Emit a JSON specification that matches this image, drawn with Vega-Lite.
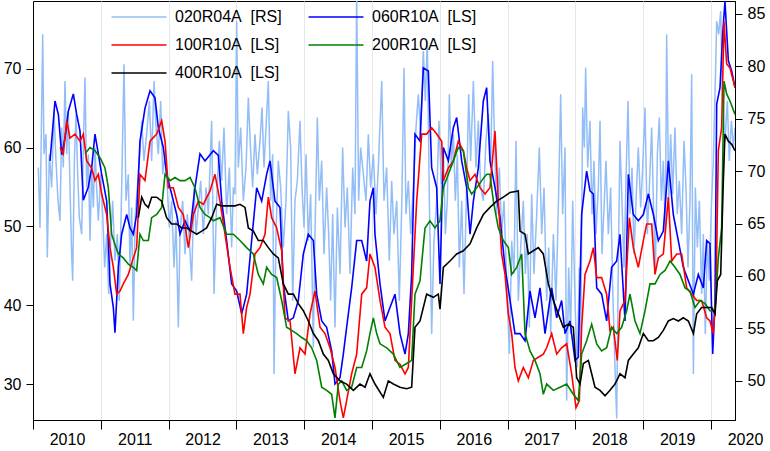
{
"$schema":"https://vega.github.io/schema/vega-lite/v6.json",
"width":702,"height":419,"autosize":"none",
"padding":{"left":33,"top":1,"right":35,"bottom":31},
"config":{"font":"Liberation Sans","view":{"stroke":"#000","strokeWidth":1},
"axis":{"labelFont":"Liberation Sans","labelFontSize":16,"labelColor":"#000","tickColor":"#000","domainColor":"#000","tickSize":7,"labelPadding":5}},
"datasets":{
"lb":[{"t":2010.079,"v":70.35},{"t":2010.103,"v":64.6},{"t":2010.143,"v":83.06},{"t":2010.162,"v":71.62},{"t":2010.192,"v":73.53},{"t":2010.211,"v":61.77},{"t":2010.241,"v":71.62},{"t":2010.275,"v":68.44},{"t":2010.31,"v":75.75},{"t":2010.339,"v":70.98},{"t":2010.369,"v":67.17},{"t":2010.398,"v":65.26},{"t":2010.423,"v":74.16},{"t":2010.447,"v":70.35},{"t":2010.472,"v":78.61},{"t":2010.497,"v":71.62},{"t":2010.521,"v":75.75},{"t":2010.546,"v":68.44},{"t":2010.57,"v":62.08},{"t":2010.585,"v":59.54},{"t":2010.61,"v":70.98},{"t":2010.634,"v":75.43},{"t":2010.659,"v":69.71},{"t":2010.683,"v":65.58},{"t":2010.718,"v":63.99},{"t":2010.742,"v":72.25},{"t":2010.767,"v":78.93},{"t":2010.792,"v":68.44},{"t":2010.816,"v":71.62},{"t":2010.841,"v":63.35},{"t":2010.865,"v":70.35},{"t":2010.89,"v":66.53},{"t":2010.914,"v":72.25},{"t":2010.939,"v":68.44},{"t":2010.964,"v":65.26},{"t":2010.998,"v":69.71},{"t":2011.028,"v":65.9},{"t":2011.057,"v":60.81},{"t":2011.087,"v":63.99},{"t":2011.116,"v":58.27},{"t":2011.146,"v":63.35},{"t":2011.175,"v":67.17},{"t":2011.209,"v":61.45},{"t":2011.244,"v":63.99},{"t":2011.273,"v":57.63},{"t":2011.308,"v":68.44},{"t":2011.342,"v":80.2},{"t":2011.372,"v":67.17},{"t":2011.406,"v":69.71},{"t":2011.431,"v":60.81},{"t":2011.455,"v":66.53},{"t":2011.48,"v":55.73},{"t":2011.509,"v":65.9},{"t":2011.539,"v":68.44},{"t":2011.568,"v":70.98},{"t":2011.603,"v":74.8},{"t":2011.637,"v":70.98},{"t":2011.676,"v":73.53},{"t":2011.716,"v":76.7},{"t":2011.75,"v":70.98},{"t":2011.785,"v":78.61},{"t":2011.814,"v":74.16},{"t":2011.849,"v":71.62},{"t":2011.883,"v":76.7},{"t":2011.913,"v":69.71},{"t":2011.947,"v":71.62},{"t":2011.981,"v":68.44},{"t":2012.011,"v":64.63},{"t":2012.045,"v":67.17},{"t":2012.08,"v":60.81},{"t":2012.109,"v":65.26},{"t":2012.144,"v":55.09},{"t":2012.168,"v":63.99},{"t":2012.207,"v":67.17},{"t":2012.242,"v":62.08},{"t":2012.276,"v":65.9},{"t":2012.306,"v":63.35},{"t":2012.34,"v":59.54},{"t":2012.375,"v":68.44},{"t":2012.404,"v":63.99},{"t":2012.439,"v":66.53},{"t":2012.473,"v":69.08},{"t":2012.512,"v":63.99},{"t":2012.552,"v":68.44},{"t":2012.586,"v":65.9},{"t":2012.635,"v":74.8},{"t":2012.67,"v":58.27},{"t":2012.709,"v":67.17},{"t":2012.748,"v":72.89},{"t":2012.783,"v":69.08},{"t":2012.817,"v":74.16},{"t":2012.856,"v":65.9},{"t":2012.896,"v":70.35},{"t":2012.93,"v":62.72},{"t":2012.955,"v":68.44},{"t":2012.979,"v":67.8},{"t":2013.004,"v":84.33},{"t":2013.028,"v":70.35},{"t":2013.063,"v":74.16},{"t":2013.102,"v":67.17},{"t":2013.142,"v":70.35},{"t":2013.176,"v":77.02},{"t":2013.21,"v":71.94},{"t":2013.24,"v":68.44},{"t":2013.274,"v":73.53},{"t":2013.309,"v":69.71},{"t":2013.348,"v":72.89},{"t":2013.378,"v":76.07},{"t":2013.407,"v":70.35},{"t":2013.437,"v":74.16},{"t":2013.471,"v":78.61},{"t":2013.505,"v":67.17},{"t":2013.535,"v":71.62},{"t":2013.555,"v":50.64},{"t":2013.584,"v":63.99},{"t":2013.618,"v":70.98},{"t":2013.653,"v":68.44},{"t":2013.692,"v":62.72},{"t":2013.732,"v":67.17},{"t":2013.766,"v":75.75},{"t":2013.8,"v":72.25},{"t":2013.83,"v":57.63},{"t":2013.864,"v":67.17},{"t":2013.899,"v":69.08},{"t":2013.938,"v":74.8},{"t":2013.968,"v":68.44},{"t":2013.997,"v":64.63},{"t":2014.027,"v":71.62},{"t":2014.061,"v":63.35},{"t":2014.095,"v":67.8},{"t":2014.135,"v":53.18},{"t":2014.159,"v":63.99},{"t":2014.194,"v":75.12},{"t":2014.223,"v":67.17},{"t":2014.258,"v":70.98},{"t":2014.292,"v":62.08},{"t":2014.331,"v":68.44},{"t":2014.361,"v":63.99},{"t":2014.39,"v":57.63},{"t":2014.42,"v":65.9},{"t":2014.454,"v":55.09},{"t":2014.489,"v":66.53},{"t":2014.528,"v":60.18},{"t":2014.567,"v":72.25},{"t":2014.602,"v":64.63},{"t":2014.636,"v":68.44},{"t":2014.676,"v":60.18},{"t":2014.715,"v":70.35},{"t":2014.749,"v":65.9},{"t":2014.774,"v":87.0},{"t":2014.803,"v":67.17},{"t":2014.833,"v":72.25},{"t":2014.872,"v":69.71},{"t":2014.912,"v":67.17},{"t":2014.946,"v":73.53},{"t":2014.98,"v":68.44},{"t":2015.02,"v":71.62},{"t":2015.059,"v":65.9},{"t":2015.093,"v":70.35},{"t":2015.143,"v":78.61},{"t":2015.177,"v":67.17},{"t":2015.216,"v":70.35},{"t":2015.256,"v":61.45},{"t":2015.29,"v":69.08},{"t":2015.324,"v":63.99},{"t":2015.364,"v":67.17},{"t":2015.403,"v":57.63},{"t":2015.438,"v":66.53},{"t":2015.472,"v":79.88},{"t":2015.501,"v":65.9},{"t":2015.536,"v":69.08},{"t":2015.57,"v":63.99},{"t":2015.61,"v":68.44},{"t":2015.649,"v":74.16},{"t":2015.683,"v":77.34},{"t":2015.718,"v":73.53},{"t":2015.757,"v":81.47},{"t":2015.787,"v":76.7},{"t":2015.816,"v":82.43},{"t":2015.846,"v":67.17},{"t":2015.88,"v":54.45},{"t":2015.914,"v":63.35},{"t":2015.954,"v":67.17},{"t":2015.988,"v":74.8},{"t":2016.023,"v":68.76},{"t":2016.052,"v":72.25},{"t":2016.082,"v":63.99},{"t":2016.111,"v":67.17},{"t":2016.141,"v":77.34},{"t":2016.17,"v":70.35},{"t":2016.2,"v":73.53},{"t":2016.229,"v":67.17},{"t":2016.259,"v":71.62},{"t":2016.288,"v":60.81},{"t":2016.323,"v":67.17},{"t":2016.357,"v":58.27},{"t":2016.396,"v":68.44},{"t":2016.426,"v":77.34},{"t":2016.455,"v":70.98},{"t":2016.495,"v":78.61},{"t":2016.534,"v":70.35},{"t":2016.568,"v":74.8},{"t":2016.603,"v":68.44},{"t":2016.642,"v":67.17},{"t":2016.681,"v":72.89},{"t":2016.716,"v":75.43},{"t":2016.75,"v":70.35},{"t":2016.78,"v":80.52},{"t":2016.809,"v":72.25},{"t":2016.839,"v":65.9},{"t":2016.878,"v":70.35},{"t":2016.912,"v":63.99},{"t":2016.947,"v":67.17},{"t":2016.986,"v":59.54},{"t":2017.026,"v":52.55},{"t":2017.06,"v":63.35},{"t":2017.094,"v":60.18},{"t":2017.124,"v":72.89},{"t":2017.158,"v":57.63},{"t":2017.193,"v":62.72},{"t":2017.232,"v":67.17},{"t":2017.262,"v":60.18},{"t":2017.291,"v":63.99},{"t":2017.321,"v":55.09},{"t":2017.355,"v":67.8},{"t":2017.389,"v":60.18},{"t":2017.429,"v":65.9},{"t":2017.468,"v":72.25},{"t":2017.503,"v":63.99},{"t":2017.537,"v":68.44},{"t":2017.576,"v":57.63},{"t":2017.606,"v":62.72},{"t":2017.635,"v":54.45},{"t":2017.675,"v":63.99},{"t":2017.714,"v":57.63},{"t":2017.748,"v":66.53},{"t":2017.783,"v":77.34},{"t":2017.812,"v":65.9},{"t":2017.847,"v":72.25},{"t":2017.871,"v":48.1},{"t":2017.901,"v":60.81},{"t":2017.93,"v":54.45},{"t":2017.96,"v":67.17},{"t":2017.994,"v":57.63},{"t":2018.028,"v":51.28},{"t":2018.058,"v":60.81},{"t":2018.078,"v":52.86},{"t":2018.107,"v":76.07},{"t":2018.132,"v":72.25},{"t":2018.151,"v":79.88},{"t":2018.181,"v":70.35},{"t":2018.215,"v":74.8},{"t":2018.245,"v":65.9},{"t":2018.274,"v":70.98},{"t":2018.304,"v":63.99},{"t":2018.338,"v":68.44},{"t":2018.363,"v":74.8},{"t":2018.392,"v":62.08},{"t":2018.422,"v":66.53},{"t":2018.451,"v":70.98},{"t":2018.486,"v":63.99},{"t":2018.52,"v":68.44},{"t":2018.55,"v":58.9},{"t":2018.584,"v":51.28},{"t":2018.609,"v":46.4},{"t":2018.638,"v":63.99},{"t":2018.658,"v":72.89},{"t":2018.687,"v":67.17},{"t":2018.717,"v":60.81},{"t":2018.746,"v":69.08},{"t":2018.776,"v":76.7},{"t":2018.805,"v":65.9},{"t":2018.835,"v":70.35},{"t":2018.864,"v":62.08},{"t":2018.894,"v":67.17},{"t":2018.928,"v":72.25},{"t":2018.963,"v":66.53},{"t":2018.992,"v":70.35},{"t":2019.027,"v":76.07},{"t":2019.061,"v":63.99},{"t":2019.091,"v":68.44},{"t":2019.125,"v":74.16},{"t":2019.15,"v":67.17},{"t":2019.179,"v":60.18},{"t":2019.209,"v":71.62},{"t":2019.238,"v":75.12},{"t":2019.268,"v":67.17},{"t":2019.297,"v":70.98},{"t":2019.327,"v":63.99},{"t":2019.346,"v":83.06},{"t":2019.376,"v":67.17},{"t":2019.405,"v":73.53},{"t":2019.435,"v":67.8},{"t":2019.469,"v":74.16},{"t":2019.503,"v":65.9},{"t":2019.533,"v":69.08},{"t":2019.567,"v":63.99},{"t":2019.602,"v":72.89},{"t":2019.631,"v":68.44},{"t":2019.661,"v":60.81},{"t":2019.69,"v":67.17},{"t":2019.715,"v":79.25},{"t":2019.74,"v":50.64},{"t":2019.769,"v":68.44},{"t":2019.799,"v":62.72},{"t":2019.828,"v":67.17},{"t":2019.862,"v":58.27},{"t":2019.887,"v":63.99},{"t":2019.916,"v":54.45},{"t":2019.946,"v":63.35},{"t":2019.975,"v":59.54},{"t":2020.005,"v":66.53},{"t":2020.034,"v":70.98},{"t":2020.064,"v":78.61},{"t":2020.084,"v":84.33},{"t":2020.113,"v":83.06},{"t":2020.143,"v":85.29},{"t":2020.172,"v":76.7},{"t":2020.206,"v":72.89},{"t":2020.241,"v":76.7},{"t":2020.27,"v":70.98},{"t":2020.3,"v":74.8},{"t":2020.33,"v":72.25},{"t":2020.354,"v":74.16}],
"b":[{"t":2010.251,"v":58.3},{"t":2010.324,"v":65.9},{"t":2010.374,"v":64.2},{"t":2010.423,"v":59.1},{"t":2010.472,"v":61.2},{"t":2010.521,"v":64.6},{"t":2010.595,"v":66.8},{"t":2010.644,"v":64.2},{"t":2010.693,"v":62.1},{"t":2010.742,"v":53.3},{"t":2010.816,"v":55},{"t":2010.865,"v":57.4},{"t":2010.914,"v":61.7},{"t":2010.964,"v":59.2},{"t":2011.013,"v":56.6},{"t":2011.087,"v":53.2},{"t":2011.136,"v":42.7},{"t":2011.185,"v":39.7},{"t":2011.209,"v":36.5},{"t":2011.259,"v":44.8},{"t":2011.308,"v":49},{"t":2011.382,"v":51.5},{"t":2011.431,"v":49.8},{"t":2011.48,"v":49},{"t":2011.529,"v":51.5},{"t":2011.578,"v":60.8},{"t":2011.652,"v":65},{"t":2011.726,"v":67.2},{"t":2011.799,"v":66.3},{"t":2011.849,"v":62.5},{"t":2011.922,"v":60},{"t":2011.971,"v":56.6},{"t":2012.045,"v":54.1},{"t":2012.119,"v":51.5},{"t":2012.168,"v":49},{"t":2012.242,"v":50.7},{"t":2012.316,"v":49.4},{"t":2012.389,"v":54.9},{"t":2012.463,"v":59.2},{"t":2012.537,"v":58.3},{"t":2012.66,"v":59.6},{"t":2012.734,"v":59},{"t":2012.783,"v":53.2},{"t":2012.856,"v":48.2},{"t":2012.93,"v":42.7},{"t":2013.004,"v":41.8},{"t":2013.078,"v":38.9},{"t":2013.151,"v":41.4},{"t":2013.225,"v":48.2},{"t":2013.299,"v":54.9},{"t":2013.373,"v":53.2},{"t":2013.446,"v":56.6},{"t":2013.496,"v":58.3},{"t":2013.569,"v":53.2},{"t":2013.643,"v":52.4},{"t":2013.692,"v":42.7},{"t":2013.766,"v":38},{"t":2013.84,"v":38.4},{"t":2013.913,"v":40.6},{"t":2013.987,"v":46.5},{"t":2014.061,"v":49},{"t":2014.135,"v":48.2},{"t":2014.184,"v":41.4},{"t":2014.258,"v":38},{"t":2014.331,"v":37.2},{"t":2014.405,"v":34.2},{"t":2014.454,"v":30},{"t":2014.528,"v":30.8},{"t":2014.577,"v":33.8},{"t":2014.626,"v":37.2},{"t":2014.7,"v":42.2},{"t":2014.774,"v":48.2},{"t":2014.848,"v":48.2},{"t":2014.921,"v":45.6},{"t":2014.97,"v":53.2},{"t":2015.02,"v":54.9},{"t":2015.044,"v":49},{"t":2015.118,"v":42.7},{"t":2015.192,"v":38},{"t":2015.265,"v":39.7},{"t":2015.339,"v":41.4},{"t":2015.413,"v":36.4},{"t":2015.487,"v":33.8},{"t":2015.536,"v":36.4},{"t":2015.585,"v":43.9},{"t":2015.634,"v":61.7},{"t":2015.708,"v":60.8},{"t":2015.757,"v":70.1},{"t":2015.831,"v":69.7},{"t":2015.88,"v":57.4},{"t":2015.954,"v":54.9},{"t":2016.003,"v":42.7},{"t":2016.052,"v":60},{"t":2016.126,"v":58.3},{"t":2016.2,"v":62.5},{"t":2016.249,"v":63.8},{"t":2016.323,"v":58.3},{"t":2016.396,"v":54.9},{"t":2016.446,"v":49},{"t":2016.495,"v":53.2},{"t":2016.568,"v":57.4},{"t":2016.642,"v":65.9},{"t":2016.691,"v":67.6},{"t":2016.74,"v":58.3},{"t":2016.814,"v":54.9},{"t":2016.888,"v":51.1},{"t":2016.962,"v":44.8},{"t":2017.036,"v":40.6},{"t":2017.109,"v":36.4},{"t":2017.183,"v":36.4},{"t":2017.257,"v":35.5},{"t":2017.33,"v":41.8},{"t":2017.404,"v":38.4},{"t":2017.478,"v":42.2},{"t":2017.552,"v":36.4},{"t":2017.65,"v":42.2},{"t":2017.724,"v":38.4},{"t":2017.797,"v":40.6},{"t":2017.847,"v":36.4},{"t":2017.92,"v":38},{"t":2017.994,"v":33},{"t":2018.043,"v":33.4},{"t":2018.092,"v":51.5},{"t":2018.166,"v":57},{"t":2018.215,"v":54.5},{"t":2018.265,"v":54.1},{"t":2018.314,"v":42.2},{"t":2018.387,"v":41.4},{"t":2018.461,"v":38},{"t":2018.535,"v":44.8},{"t":2018.609,"v":45.6},{"t":2018.658,"v":49},{"t":2018.732,"v":38},{"t":2018.781,"v":56.6},{"t":2018.854,"v":51.5},{"t":2018.928,"v":50.7},{"t":2019.002,"v":51.5},{"t":2019.076,"v":54.1},{"t":2019.15,"v":51.5},{"t":2019.223,"v":48.2},{"t":2019.297,"v":49.4},{"t":2019.371,"v":58.3},{"t":2019.444,"v":51.5},{"t":2019.518,"v":48.2},{"t":2019.592,"v":44.8},{"t":2019.666,"v":43.1},{"t":2019.74,"v":41.4},{"t":2019.813,"v":43.9},{"t":2019.887,"v":42.2},{"t":2019.936,"v":48.2},{"t":2019.985,"v":47.8},{"t":2020.025,"v":33.8},{"t":2020.059,"v":40.6},{"t":2020.084,"v":65.5},{"t":2020.133,"v":67.6},{"t":2020.172,"v":74.4},{"t":2020.206,"v":78.5},{"t":2020.256,"v":71},{"t":2020.305,"v":69.7},{"t":2020.354,"v":67.6}],
"r":[{"t":2010.398,"v":60},{"t":2010.447,"v":59.2},{"t":2010.497,"v":63.4},{"t":2010.546,"v":61.2},{"t":2010.619,"v":61.7},{"t":2010.693,"v":60.8},{"t":2010.742,"v":61.7},{"t":2010.792,"v":58.3},{"t":2010.865,"v":57.4},{"t":2010.914,"v":55.8},{"t":2010.964,"v":56.6},{"t":2011.013,"v":54.1},{"t":2011.087,"v":51.5},{"t":2011.136,"v":47.3},{"t":2011.185,"v":44.8},{"t":2011.234,"v":41.4},{"t":2011.283,"v":41.8},{"t":2011.332,"v":42.7},{"t":2011.406,"v":43.9},{"t":2011.48,"v":46},{"t":2011.529,"v":47.3},{"t":2011.578,"v":56.6},{"t":2011.652,"v":55.8},{"t":2011.726,"v":60.8},{"t":2011.824,"v":61.7},{"t":2011.898,"v":63.4},{"t":2011.947,"v":60.8},{"t":2011.996,"v":54.9},{"t":2012.07,"v":54.9},{"t":2012.144,"v":52.4},{"t":2012.217,"v":51.5},{"t":2012.291,"v":47.3},{"t":2012.365,"v":51.5},{"t":2012.439,"v":53.2},{"t":2012.512,"v":52.8},{"t":2012.611,"v":54.5},{"t":2012.684,"v":56.6},{"t":2012.758,"v":53.2},{"t":2012.832,"v":49},{"t":2012.906,"v":44.8},{"t":2012.979,"v":41.4},{"t":2013.053,"v":41.4},{"t":2013.102,"v":36.4},{"t":2013.151,"v":39.7},{"t":2013.201,"v":41.4},{"t":2013.274,"v":46.5},{"t":2013.348,"v":47.3},{"t":2013.422,"v":49},{"t":2013.471,"v":53.7},{"t":2013.52,"v":51.1},{"t":2013.594,"v":49.8},{"t":2013.668,"v":46.9},{"t":2013.717,"v":38.4},{"t":2013.791,"v":38},{"t":2013.864,"v":31.3},{"t":2013.938,"v":34.6},{"t":2014.012,"v":33.8},{"t":2014.086,"v":38.9},{"t":2014.159,"v":41.8},{"t":2014.233,"v":37.2},{"t":2014.307,"v":36.4},{"t":2014.381,"v":34.6},{"t":2014.454,"v":32.1},{"t":2014.528,"v":27.9},{"t":2014.577,"v":25.7},{"t":2014.626,"v":27.9},{"t":2014.7,"v":31.3},{"t":2014.774,"v":33.8},{"t":2014.848,"v":41.4},{"t":2014.921,"v":42.2},{"t":2014.97,"v":46.5},{"t":2015.044,"v":44.8},{"t":2015.118,"v":40.6},{"t":2015.192,"v":37.2},{"t":2015.265,"v":36.4},{"t":2015.339,"v":33},{"t":2015.413,"v":32.5},{"t":2015.487,"v":31.3},{"t":2015.536,"v":32.1},{"t":2015.585,"v":40.6},{"t":2015.659,"v":53.2},{"t":2015.733,"v":61.7},{"t":2015.806,"v":61.7},{"t":2015.88,"v":62.5},{"t":2015.954,"v":61.7},{"t":2016.028,"v":60.8},{"t":2016.052,"v":55.8},{"t":2016.126,"v":57.4},{"t":2016.2,"v":58.3},{"t":2016.273,"v":60.8},{"t":2016.347,"v":59.6},{"t":2016.396,"v":57.4},{"t":2016.446,"v":55.8},{"t":2016.519,"v":56.6},{"t":2016.593,"v":54.9},{"t":2016.667,"v":54.1},{"t":2016.74,"v":54.9},{"t":2016.814,"v":62.1},{"t":2016.863,"v":53.2},{"t":2016.912,"v":46.5},{"t":2016.962,"v":43.9},{"t":2017.011,"v":38.9},{"t":2017.06,"v":36.4},{"t":2017.109,"v":32.1},{"t":2017.158,"v":30.4},{"t":2017.232,"v":32.1},{"t":2017.306,"v":30.8},{"t":2017.38,"v":33},{"t":2017.453,"v":33.4},{"t":2017.527,"v":33.8},{"t":2017.576,"v":34.6},{"t":2017.65,"v":36.4},{"t":2017.724,"v":33.8},{"t":2017.797,"v":34.6},{"t":2017.871,"v":35.1},{"t":2017.945,"v":31.3},{"t":2018.009,"v":27},{"t":2018.058,"v":27.9},{"t":2018.092,"v":37.2},{"t":2018.142,"v":43.9},{"t":2018.215,"v":45.6},{"t":2018.265,"v":47.3},{"t":2018.314,"v":43.5},{"t":2018.387,"v":43.5},{"t":2018.461,"v":41.4},{"t":2018.51,"v":36.8},{"t":2018.559,"v":37.2},{"t":2018.618,"v":33},{"t":2018.658,"v":39.3},{"t":2018.732,"v":40.6},{"t":2018.796,"v":51.1},{"t":2018.854,"v":47.3},{"t":2018.928,"v":44.8},{"t":2019.002,"v":48.2},{"t":2019.051,"v":50.3},{"t":2019.125,"v":50.3},{"t":2019.174,"v":43.9},{"t":2019.223,"v":46},{"t":2019.297,"v":46.5},{"t":2019.371,"v":53.7},{"t":2019.42,"v":45.6},{"t":2019.494,"v":46.5},{"t":2019.567,"v":46.5},{"t":2019.641,"v":42.2},{"t":2019.715,"v":41.4},{"t":2019.789,"v":40.6},{"t":2019.862,"v":40.6},{"t":2019.936,"v":38.4},{"t":2019.985,"v":38},{"t":2020.034,"v":36.4},{"t":2020.074,"v":41.4},{"t":2020.108,"v":59.6},{"t":2020.157,"v":62.5},{"t":2020.192,"v":76},{"t":2020.231,"v":70.6},{"t":2020.28,"v":70.1},{"t":2020.354,"v":67.6}],
"g":[{"t":2010.767,"v":59.2},{"t":2010.841,"v":60},{"t":2010.914,"v":59.6},{"t":2010.988,"v":58.7},{"t":2011.062,"v":57.4},{"t":2011.111,"v":54.9},{"t":2011.16,"v":49},{"t":2011.209,"v":47.7},{"t":2011.259,"v":46.5},{"t":2011.332,"v":46},{"t":2011.406,"v":45.2},{"t":2011.48,"v":44.8},{"t":2011.529,"v":44.4},{"t":2011.578,"v":49},{"t":2011.627,"v":48.2},{"t":2011.701,"v":48.2},{"t":2011.75,"v":51.1},{"t":2011.824,"v":51.5},{"t":2011.898,"v":52.4},{"t":2011.947,"v":56.6},{"t":2012.021,"v":55.8},{"t":2012.094,"v":56.2},{"t":2012.168,"v":55.8},{"t":2012.242,"v":55.8},{"t":2012.316,"v":56.2},{"t":2012.389,"v":54.9},{"t":2012.463,"v":52.4},{"t":2012.537,"v":51.5},{"t":2012.611,"v":51.1},{"t":2012.66,"v":50.7},{"t":2012.758,"v":51.1},{"t":2012.856,"v":49},{"t":2012.955,"v":49},{"t":2013.053,"v":48.2},{"t":2013.151,"v":47.3},{"t":2013.25,"v":46.5},{"t":2013.323,"v":43.9},{"t":2013.397,"v":42.7},{"t":2013.446,"v":44.8},{"t":2013.52,"v":43.9},{"t":2013.594,"v":43.5},{"t":2013.668,"v":40.6},{"t":2013.741,"v":37.2},{"t":2013.815,"v":36.8},{"t":2013.889,"v":36.4},{"t":2013.963,"v":35.9},{"t":2014.036,"v":35.5},{"t":2014.11,"v":34.6},{"t":2014.184,"v":33},{"t":2014.258,"v":29.6},{"t":2014.331,"v":29.2},{"t":2014.405,"v":28.7},{"t":2014.454,"v":25.7},{"t":2014.503,"v":30},{"t":2014.553,"v":30.4},{"t":2014.626,"v":29.2},{"t":2014.7,"v":29.6},{"t":2014.774,"v":32.1},{"t":2014.848,"v":32.1},{"t":2014.921,"v":34.2},{"t":2014.97,"v":36.4},{"t":2015.02,"v":38.4},{"t":2015.069,"v":36.4},{"t":2015.118,"v":35.1},{"t":2015.216,"v":34.6},{"t":2015.315,"v":33.8},{"t":2015.413,"v":32.1},{"t":2015.511,"v":32.6},{"t":2015.585,"v":33},{"t":2015.634,"v":41.4},{"t":2015.708,"v":43.1},{"t":2015.782,"v":49.8},{"t":2015.855,"v":50.7},{"t":2015.929,"v":49.8},{"t":2016.003,"v":50.7},{"t":2016.052,"v":54.9},{"t":2016.126,"v":56.6},{"t":2016.2,"v":58.3},{"t":2016.273,"v":60},{"t":2016.347,"v":59.6},{"t":2016.421,"v":54.9},{"t":2016.47,"v":54.1},{"t":2016.544,"v":54.9},{"t":2016.618,"v":55.8},{"t":2016.691,"v":56.6},{"t":2016.74,"v":56.6},{"t":2016.79,"v":53.2},{"t":2016.863,"v":49.8},{"t":2016.937,"v":48.2},{"t":2017.011,"v":47.3},{"t":2017.06,"v":43.9},{"t":2017.134,"v":44.8},{"t":2017.208,"v":46.5},{"t":2017.257,"v":36.4},{"t":2017.33,"v":34.2},{"t":2017.404,"v":33},{"t":2017.478,"v":31.3},{"t":2017.527,"v":28.7},{"t":2017.576,"v":30},{"t":2017.675,"v":29.2},{"t":2017.773,"v":29.6},{"t":2017.871,"v":30},{"t":2017.969,"v":28.7},{"t":2018.043,"v":27.9},{"t":2018.092,"v":33.8},{"t":2018.166,"v":35.5},{"t":2018.24,"v":37.6},{"t":2018.314,"v":35.1},{"t":2018.387,"v":34.2},{"t":2018.461,"v":34.6},{"t":2018.535,"v":37.2},{"t":2018.609,"v":36.4},{"t":2018.682,"v":37.2},{"t":2018.756,"v":39.3},{"t":2018.805,"v":41.4},{"t":2018.879,"v":38},{"t":2018.953,"v":36.4},{"t":2019.027,"v":39.3},{"t":2019.1,"v":42.7},{"t":2019.174,"v":42.7},{"t":2019.248,"v":43.9},{"t":2019.322,"v":44.4},{"t":2019.396,"v":45.6},{"t":2019.469,"v":44.8},{"t":2019.543,"v":43.9},{"t":2019.617,"v":42.2},{"t":2019.69,"v":41.8},{"t":2019.764,"v":39.7},{"t":2019.838,"v":40.6},{"t":2019.912,"v":40.2},{"t":2019.985,"v":39.3},{"t":2020.059,"v":39.3},{"t":2020.108,"v":46},{"t":2020.157,"v":49.8},{"t":2020.192,"v":68.4},{"t":2020.231,"v":66.8},{"t":2020.28,"v":65.9},{"t":2020.354,"v":64.2}],
"k":[{"t":2011.554,"v":51.1},{"t":2011.603,"v":53.7},{"t":2011.652,"v":52.8},{"t":2011.701,"v":52.4},{"t":2011.75,"v":53.7},{"t":2011.824,"v":53.7},{"t":2011.898,"v":53.2},{"t":2011.971,"v":51.1},{"t":2012.045,"v":50.3},{"t":2012.119,"v":50.3},{"t":2012.193,"v":49.8},{"t":2012.266,"v":49.8},{"t":2012.34,"v":49.4},{"t":2012.414,"v":49},{"t":2012.488,"v":49.4},{"t":2012.561,"v":49.8},{"t":2012.635,"v":51.1},{"t":2012.709,"v":52.8},{"t":2012.783,"v":52.6},{"t":2012.881,"v":52.6},{"t":2012.979,"v":52.6},{"t":2013.053,"v":52.8},{"t":2013.127,"v":52.4},{"t":2013.176,"v":49.8},{"t":2013.25,"v":49.4},{"t":2013.323,"v":48.2},{"t":2013.397,"v":48.2},{"t":2013.471,"v":47.3},{"t":2013.545,"v":46.5},{"t":2013.618,"v":46},{"t":2013.692,"v":42.7},{"t":2013.766,"v":41.4},{"t":2013.84,"v":41.4},{"t":2013.913,"v":40.2},{"t":2013.987,"v":39.3},{"t":2014.061,"v":38},{"t":2014.135,"v":36.4},{"t":2014.209,"v":35.5},{"t":2014.282,"v":33.8},{"t":2014.356,"v":33},{"t":2014.43,"v":31.3},{"t":2014.528,"v":30.4},{"t":2014.626,"v":30},{"t":2014.725,"v":29.2},{"t":2014.823,"v":30},{"t":2014.897,"v":29.6},{"t":2014.97,"v":31.3},{"t":2015.044,"v":30},{"t":2015.167,"v":28.3},{"t":2015.241,"v":30.4},{"t":2015.315,"v":30},{"t":2015.413,"v":29.6},{"t":2015.511,"v":29.4},{"t":2015.585,"v":29.6},{"t":2015.634,"v":37.2},{"t":2015.708,"v":38},{"t":2015.806,"v":41.4},{"t":2015.905,"v":41},{"t":2015.978,"v":41.4},{"t":2016.003,"v":39.5},{"t":2016.052,"v":44.8},{"t":2016.15,"v":45.6},{"t":2016.249,"v":46.5},{"t":2016.347,"v":46.9},{"t":2016.446,"v":47.8},{"t":2016.544,"v":49.8},{"t":2016.642,"v":51.5},{"t":2016.74,"v":52.4},{"t":2016.839,"v":53.2},{"t":2016.937,"v":53.7},{"t":2017.036,"v":54.3},{"t":2017.158,"v":54.5},{"t":2017.183,"v":49.4},{"t":2017.257,"v":49},{"t":2017.306,"v":46.5},{"t":2017.38,"v":46.9},{"t":2017.453,"v":47.3},{"t":2017.527,"v":46.5},{"t":2017.601,"v":42.7},{"t":2017.675,"v":40.6},{"t":2017.748,"v":38.9},{"t":2017.822,"v":37.2},{"t":2017.896,"v":37.6},{"t":2017.969,"v":37.2},{"t":2018.019,"v":30.8},{"t":2018.068,"v":30},{"t":2018.117,"v":32.6},{"t":2018.191,"v":33},{"t":2018.24,"v":31.3},{"t":2018.289,"v":29.6},{"t":2018.363,"v":29.2},{"t":2018.437,"v":28.5},{"t":2018.51,"v":29.2},{"t":2018.584,"v":30},{"t":2018.658,"v":31.3},{"t":2018.732,"v":30.8},{"t":2018.781,"v":33},{"t":2018.854,"v":33.8},{"t":2018.928,"v":34.6},{"t":2019.002,"v":36.4},{"t":2019.076,"v":35.5},{"t":2019.15,"v":35.5},{"t":2019.223,"v":35.9},{"t":2019.297,"v":36.8},{"t":2019.371,"v":38},{"t":2019.444,"v":38.3},{"t":2019.518,"v":38},{"t":2019.592,"v":38.4},{"t":2019.666,"v":38},{"t":2019.74,"v":36.4},{"t":2019.789,"v":38.9},{"t":2019.862,"v":39.7},{"t":2019.936,"v":39.7},{"t":2020.01,"v":39.7},{"t":2020.059,"v":38.9},{"t":2020.093,"v":43.1},{"t":2020.143,"v":43.9},{"t":2020.182,"v":55.8},{"t":2020.206,"v":61.7},{"t":2020.256,"v":60.8},{"t":2020.305,"v":60.4},{"t":2020.354,"v":59.6}]
},
"encoding":{
"x":{"field":"t","type":"quantitative","title":null,
"scale":{"domain":[2010,2020.354],"nice":false,"zero":false},
"axis":{"values":[2010,2010.25,2010.5,2010.75,2011,2011.25,2011.5,2011.75,2012,2012.25,2012.5,2012.75,2013,2013.25,2013.5,2013.75,2014,2014.25,2014.5,2014.75,2015,2015.25,2015.5,2015.75,2016,2016.25,2016.5,2016.75,2017,2017.25,2017.5,2017.75,2018,2018.25,2018.5,2018.75,2019,2019.25,2019.5,2019.75,2020,2020.25],
"format":"d","labelExpr":"datum.value % 1 === 0 ? datum.label : ''","labelFlush":false,"labelOverlap":false,"labelOffset":34,"labelPadding":2,
"tickSize":{"condition":{"test":"datum.value % 1 === 0","value":9},"value":5},
"grid":true,"gridColor":"#e4e8ef","gridOpacity":{"condition":{"test":"datum.value % 1 === 0","value":1},"value":0}}}
},
"layer":[
{"data":{"name":"lb"},"mark":{"type":"line","clip":true,"strokeWidth":1.5},
"encoding":{"y":{"field":"v","type":"quantitative","title":null,"scale":{"domain":[46.25,86.24],"nice":false,"zero":false},"axis":{"orient":"right","values":[50,55,60,65,70,75,80,85],"grid":false}},
"color":{"datum":"020R04A","type":"nominal","scale":{"domain":["020R04A","100R10A","400R10A","060R10A","200R10A"],"range":["#93bdf7","#ff0000","#000000","#0000ff","#008000"]},
"legend":{"title":null,"orient":"none","legendX":98,"legendY":8,"columns":2,"symbolType":"M-5,0H5","symbolSize":121,"symbolStrokeWidth":1.6,"labelFontSize":16,"labelFont":"Liberation Sans","labelColor":"#000","columnPadding":23,"rowPadding":12,"labelOffset":28,"padding":0,
"labelExpr":"datum.label + (datum.label == '020R04A' ? '\u00a0\u00a0[RS]' : '\u00a0\u00a0[LS]')"}}}},
{"encoding":{"y":{"field":"v","type":"quantitative","title":null,"scale":{"domain":[25.44,78.58],"nice":false,"zero":false},"axis":{"orient":"left","values":[30,40,50,60,70],"grid":false}}},
"layer":[
{"data":{"name":"b"},"mark":{"type":"line","clip":true,"strokeWidth":1.6},"encoding":{"color":{"datum":"060R10A","type":"nominal"}}},
{"data":{"name":"r"},"mark":{"type":"line","clip":true,"strokeWidth":1.6},"encoding":{"color":{"datum":"100R10A","type":"nominal"}}},
{"data":{"name":"g"},"mark":{"type":"line","clip":true,"strokeWidth":1.6},"encoding":{"color":{"datum":"200R10A","type":"nominal"}}},
{"data":{"name":"k"},"mark":{"type":"line","clip":true,"strokeWidth":1.6},"encoding":{"color":{"datum":"400R10A","type":"nominal"}}}
]}
],
"resolve":{"scale":{"y":"independent"}}
}
